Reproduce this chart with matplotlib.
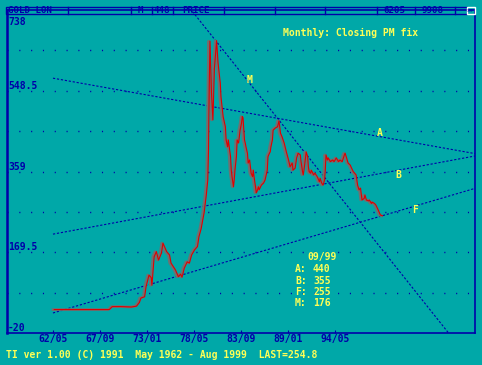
import numpy as np
import matplotlib
matplotlib.use('Agg')
import matplotlib.pyplot as plt
import matplotlib.transforms as mtransforms
from matplotlib.patches import Rectangle

# months since May 1962 and London PM fix (USD/oz)
months = [0, 75, 79, 91, 105, 112, 116, 118, 123, 125, 129, 132, 133, 136, 139,
          142, 146, 148, 153, 157, 159, 165, 169, 172, 174, 177, 181, 184, 187,
          191, 195, 197, 200, 204, 207, 209, 210, 211, 212, 214, 216, 218, 221,
          222, 223, 226, 227, 230, 233, 234, 236, 237, 240, 241, 242, 244, 245,
          246, 248, 249, 251, 252, 253, 255, 256, 257, 259, 260, 261, 263, 264,
          266, 267, 268, 270, 271, 272, 274, 275, 276, 278, 279, 282, 285, 287,
          290, 291, 293, 294, 295, 297, 298, 301, 304, 306, 308, 310, 313, 316,
          319, 321, 324, 325, 328, 330, 332, 335, 336, 338, 339, 340, 342, 343,
          345, 346, 347, 349, 350, 351, 353, 355, 358, 361, 362, 364, 366, 368,
          369, 370, 372, 373, 376, 379, 381, 384, 387, 389, 392, 395, 396, 398,
          400, 403, 404, 407, 411, 413, 415, 417, 419, 422, 423, 425, 428, 429,
          432, 433, 436, 438, 441, 444, 447]
gold = [35, 35, 42, 42, 41, 43, 52, 62, 65, 89, 116, 110, 92, 159, 171,
        151, 168, 191, 171, 163, 144, 128, 112, 118, 111, 132, 147, 144, 163,
        175, 183, 206, 225, 262, 304, 339, 409, 560, 665, 545, 480, 600, 666,
        640, 614, 567, 534, 487, 464, 433, 417, 433, 394, 362, 347, 323, 339,
        362, 394, 433, 426, 441, 456, 473, 488, 485, 433, 426, 417, 402, 379,
        386, 370, 355, 347, 362, 347, 323, 309, 312, 323, 316, 327, 332, 339,
        362, 394, 402, 405, 417, 433, 456, 461, 464, 478, 449, 441, 426, 405,
        386, 370, 379, 362, 367, 391, 402, 398, 382, 359, 351, 362, 391, 405,
        394, 370, 359, 355, 362, 359, 351, 355, 347, 335, 343, 332, 327, 339,
        362, 398, 386, 391, 382, 386, 382, 391, 382, 386, 382, 398, 402, 391,
        379, 374, 370, 359, 351, 327, 316, 320, 292, 296, 304, 292, 290, 292,
        284, 287, 284, 280, 269, 257, 255]

# trend lines, two anchor points each (month, value); 09/99 = month 448
trend_names = ['A', 'B', 'F', 'M']
trend_m0 = [0, 0, 0, 210]
trend_v0 = [578, 212, 27, 691]
trend_m1 = [448, 448, 448, 448]
trend_v1 = [440, 355, 255, 176]

tick_months = [0, 64, 128, 192, 256, 320, 384]
tick_labels = ['62/05', '67/09', '73/01', '78/05', '83/09', '89/01', '94/05']
ylab_vals = [738, 548.5, 359, 169.5, -20]

TEAL = '#00a8a8'
BLUE = '#0000a8'
YELLOW = '#ffff55'
FONT = dict(family='DejaVu Sans Mono', weight='bold', size=7)

fig = plt.figure(figsize=(4.82, 3.65), dpi=100, facecolor=TEAL)
ax = fig.add_axes([7/482, 32/365, 468/482, 323/365], facecolor=TEAL)
ax.set_xlim(-62.6, 574.6)
ax.set_ylim(-20, 738)

# dotted grid rows
for v in np.linspace(-20, 738, 9)[1:-1]:
    ax.axhline(v, color=BLUE, lw=1, ls=(0, (0.8, 7.7)), zorder=1)

# trend lines
xmax = 700
for name, m0, v0, m1, v1 in zip(trend_names, trend_m0, trend_v0, trend_m1, trend_v1):
    slope = (v1 - v0) / (m1 - m0)
    xs = [m0, xmax]
    ys = [v0, v0 + slope * (xmax - m0)]
    if name == 'M':
        xs[0] = m0 - 60
        ys[0] = v0 - slope * 60
    ax.plot(xs, ys, color=BLUE, lw=0.8, ls=(0, (2, 1.6)), zorder=2)

label_pos = {'A': (445, 449), 'B': (470, 351), 'F': (493, 269), 'M': (268, 574)}
for name in trend_names:
    ax.text(*label_pos[name], name, color=YELLOW, ha='center', va='center', **FONT)

# price line with grey shadow
shift = mtransforms.offset_copy(ax.transData, fig=fig, x=1.3, y=0, units='dots')
ax.plot(months, gold, color='#707070', lw=1.9, zorder=3)
ax.plot(months, gold, color='#e00000', lw=0.8, zorder=4, transform=shift)

for s in ax.spines.values():
    s.set_color(BLUE)
    s.set_linewidth(1.2)
ax.spines['left'].set_linewidth(1.8)

ax.set_xticks(tick_months)
ax.set_xticklabels(tick_labels, color=BLUE, **FONT)
ax.tick_params(axis='x', direction='in', length=2, color=BLUE, pad=1)
ax.set_yticks([])

for v in ylab_vals:
    va = 'top' if v == max(ylab_vals) else 'bottom'
    dy = -7 if va == 'top' else 0
    ax.annotate(('%g' % v), xy=(0, v), xycoords=('axes fraction', 'data'),
                xytext=(1, dy), textcoords='offset pixels',
                ha='left', va=va, color=BLUE, **FONT)

# decoration layer in pixel coordinates
deco = fig.add_axes([0, 0, 1, 1], facecolor='none', zorder=5)
deco.set_xlim(0, 482)
deco.set_ylim(365, 0)
deco.axis('off')

deco.add_patch(Rectangle((6, 7), 461, 7, fill=False, ec=BLUE, lw=1))
for x in [68, 131, 152, 173, 224, 275, 325, 377, 415, 455]:
    deco.plot([x, x], [7, 14], color=BLUE, lw=1)
deco.add_patch(Rectangle((467, 7), 8, 7, fill=False, ec='white', lw=1))
deco.text(470, 10.5, 'ICO', color=BLUE, ha='center', va='center',
          family='DejaVu Sans Mono', size=2.5)
for x, s in [(8, 'GOLD LON'), (138, 'M'), (154, '448'), (182, 'PRICE'),
             (383, '6205'), (422, '9908')]:
    deco.text(x, 10.8, s, color=BLUE, ha='left', va='center',
              family='DejaVu Sans Mono', weight='bold', size=6.6)

deco.text(283, 33, 'Monthly: Closing PM fix', color=YELLOW, ha='left', va='center', **FONT)

deco.text(307, 257, '09/99', color=YELLOW, ha='left', va='center', **FONT)
for i, (name, val) in enumerate(zip(trend_names, trend_v1)):
    y = 269 + 11.5 * i
    deco.text(295, y, name + ':', color=YELLOW, ha='left', va='center', **FONT)
    deco.text(313, y, '%d' % val, color=YELLOW, ha='left', va='center', **FONT)

deco.text(6, 355, 'TI ver 1.00 (C) 1991  May 1962 - Aug 1999  LAST=%.1f' % 254.8,
          color=YELLOW, ha='left', va='center', **FONT)

plt.savefig('out.png', dpi=100, facecolor=TEAL)
